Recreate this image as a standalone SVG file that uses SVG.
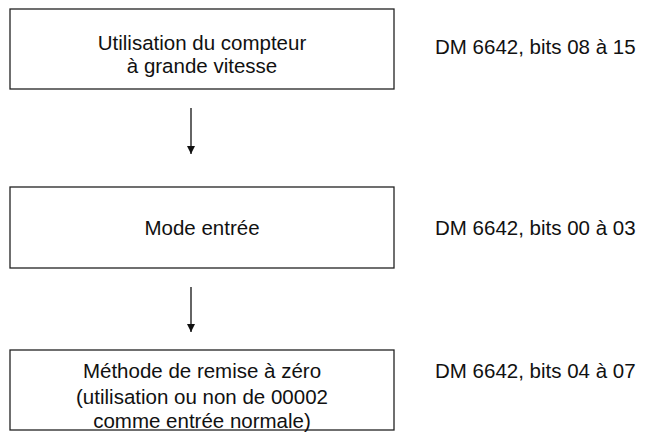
<svg xmlns="http://www.w3.org/2000/svg" width="651" height="434" viewBox="0 0 651 434">
<style>
.b{fill:#fff;stroke:#222;stroke-width:1.3}
.t{font-family:"Liberation Sans",Arial,sans-serif;font-size:20.5px;fill:#111}
.c{text-anchor:middle}
.a{stroke:#111;stroke-width:1.3}
</style>
<defs>
<marker id="h" viewBox="0 0 10 10" refX="10" refY="5" markerWidth="10" markerHeight="8" orient="auto" markerUnits="userSpaceOnUse"><path d="M0,0 L10,5 L0,10 Z" fill="#111"/></marker></defs>
<g id="n1"><rect class="b" x="10" y="9" width="384" height="80"/>
<text class="t c" x="202" y="50">Utilisation du compteur</text><text class="t c" x="202" y="73">à grande vitesse</text>
<text class="t" x="435" y="54">DM 6642, bits 08 à 15</text></g>
<g id="n2"><rect class="b" x="10" y="187" width="384" height="81"/>
<text class="t c" x="202" y="235">Mode entrée</text>
<text class="t" x="435" y="235">DM 6642, bits 00 à 03</text></g>
<g id="n3"><rect class="b" x="10" y="350" width="384" height="80"/>
<text class="t c" x="202" y="378">Méthode de remise à zéro</text><text class="t c" x="202" y="404">(utilisation ou non de 00002</text><text class="t c" x="202" y="428">comme entrée normale)</text>
<text class="t" x="435" y="378">DM 6642, bits 04 à 07</text></g>
<g id="connectors">
<line class="a" x1="191" y1="108" x2="191" y2="154" marker-end="url(#h)"/>
<line class="a" x1="191" y1="287" x2="191" y2="332" marker-end="url(#h)"/>
</g>
</svg>
